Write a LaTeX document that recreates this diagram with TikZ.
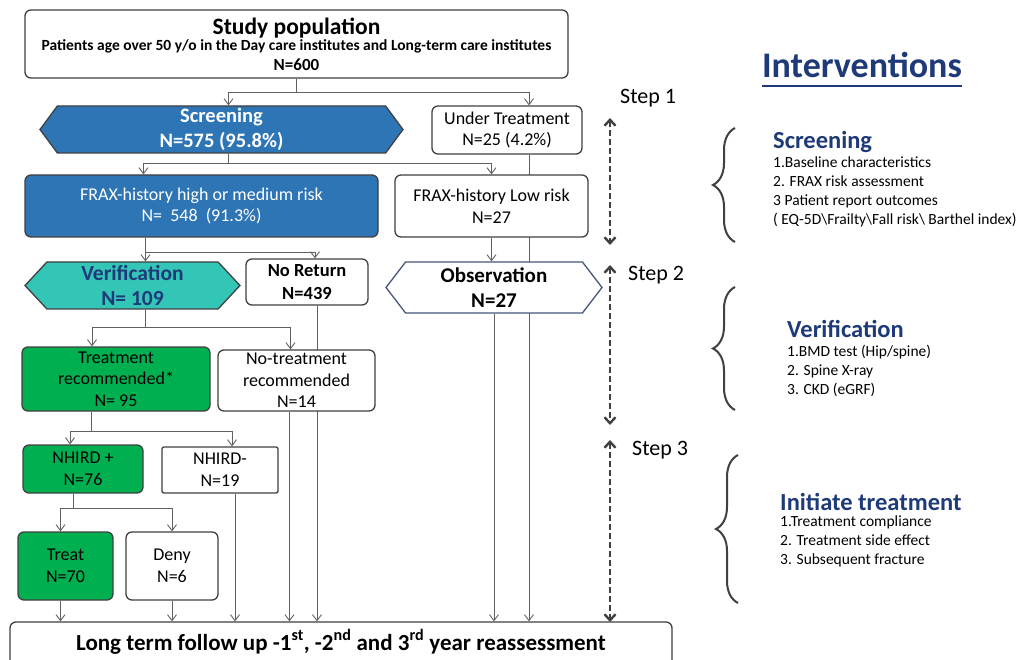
\documentclass[tikz,border=0pt]{standalone}
\usepackage{fontspec}
\setmainfont{Carlito}
\usetikzlibrary{arrows.meta,calc,shapes.symbols,decorations.pathreplacing,backgrounds}
\definecolor{boxblue}{HTML}{2E75B6}
\definecolor{verteal}{HTML}{33C6B6}
\definecolor{boxgreen}{HTML}{00B050}
\definecolor{navy}{HTML}{1F3A78}
\definecolor{edge}{HTML}{404040}
\definecolor{wire}{HTML}{606060}
\newcommand{\fs}[1]{\fontsize{#1}{1.2\dimexpr#1pt\relax}\selectfont}

\begin{document}
\begin{tikzpicture}[x=1pt,y=-1pt,
    box/.style={draw=edge,line width=1.3pt,rounded corners=6pt,align=center,inner sep=0pt,fill=white,font=\fs{18}},
    hexbox/.style={signal,signal to=east and west,draw=edge,line width=1.3pt,align=center,inner sep=0pt},
    conn/.style={wire,line width=0.9pt},
    arr/.style={conn,-{Straight Barb[length=6pt,width=9pt]}},
    stepline/.style={edge,line width=2.4pt,dashed,dash pattern=on 6pt off 3pt,{Straight Barb[length=6pt,width=11pt]}-{Straight Barb[length=6pt,width=11pt]}},
    curly/.style={edge,line width=2pt,decorate,decoration={brace,amplitude=22pt}},
    head/.style={navy,font=\fs{24.5}\bfseries,anchor=west,inner sep=0pt},
    items/.style={font=\fontsize{15.5}{19}\selectfont,align=left,anchor=north west,inner sep=0pt}]
  \useasboundingbox (0,0) rectangle (1020,660);

  % left flow chart
  \node[box,font=\fontsize{15.5}{19}\selectfont\bfseries,minimum width=543,minimum height=68] (study) at (296.5,44)
    {{\fs{23.5}Study population}\\[-3pt]
     Patients age over 50 y/o in the Day care institutes and Long-term care institutes\\[1pt]
     {\fs{17}N=600}};
  \node[hexbox,fill=boxblue,text=white,font=\fs{20.5}\bfseries,minimum width=363,minimum height=47,signal pointer angle=107] (screen) at (221.5,129.5)
    {Screening\\N=575 (95.8\%)};
  \node[box,minimum width=150,minimum height=48] (under) at (507,130) {Under Treatment\\N=25 (4.2\%)};
  \node[box,fill=boxblue,text=white,minimum width=353,minimum height=62] (frxh) at (201.5,206)
    {FRAX-history high or medium risk\\N=\ \ 548\ \ (91.3\%)};
  \node[box,minimum width=193,minimum height=62] (frxl) at (491.5,206) {FRAX-history Low risk\\N=27};
  \node[hexbox,fill=verteal,text=navy,font=\fs{21.5}\bfseries,minimum width=215,minimum height=47,signal pointer angle=94] (verif) at (132.5,285.5)
    {Verification\\N= 109};
  \node[box,font=\fs{18.5}\bfseries,minimum width=122,minimum height=46] (noret) at (307,282) {No Return\\N=439};
  \node[hexbox,fill=white,draw=navy!60!gray,font=\fs{21}\bfseries,minimum width=216,minimum height=51,signal pointer angle=105] (obs) at (494,287.5)
    {Observation\\N=27};
  \node[box,fill=boxgreen,minimum width=188,minimum height=64] (trec) at (116,379) {Treatment\\recommended*\\N= 95};
  \node[box,minimum width=157,minimum height=61] (notr) at (296.5,380.5) {No-treatment\\recommended\\N=14};
  \node[box,fill=boxgreen,minimum width=120,minimum height=48] (nhp) at (83,469) {NHIRD +\\N=76};
  \node[box,rounded corners=2pt,minimum width=116,minimum height=46] (nhm) at (220,470) {NHIRD-\\N=19};
  \node[box,fill=boxgreen,minimum width=95,minimum height=68] (treat) at (65.5,566) {Treat\\N=70};
  \node[box,minimum width=92,minimum height=68] (deny) at (172,566) {Deny\\N=6};
  \node[box,font=\fs{23}\bfseries,minimum width=662,minimum height=48,text height=16pt,text depth=8pt] (longt) at (341,646)
    {Long term follow up -1\textsuperscript{st}, -2\textsuperscript{nd} and 3\textsuperscript{rd} year reassessment};

  \begin{scope}[on background layer]
    \fill[white] (0,0) rectangle (1020,660);
    \draw[conn] (study.south) -- ++(0,14) coordinate (j1);
    \draw[arr] (j1) -| ([xshift=7]screen.north);
    \draw[arr] (j1) -| ([xshift=22]under.north);
    \draw[conn] ([xshift=7]screen.south) -- ++(0,10) coordinate (j2);
    \draw[arr] (j2) -| ([xshift=-58]frxh.north);
    \draw[arr] (j2) -| (frxl.north);
    \draw[arr] ([xshift=22]under.south) -- ([xshift=22]under.south |- longt.north);
    \draw[conn] ([xshift=-56]frxh.south) -- ++(0,15) coordinate (j3);
    \draw[arr] (j3) -- (j3 |- verif.north);
    \draw[arr] (j3) -| ([xshift=8]noret.north);
    \draw[arr] (frxl.south) -- (frxl.south |- obs.north);
    \draw[conn] (j3 |- verif.south) -- ++(0,18) coordinate (j4);
    \draw[arr] (j4) -| ([xshift=-24]trec.north);
    \draw[arr] (j4) -| ([xshift=-6]notr.north);
    \draw[arr] ([xshift=10]noret.south) -- ([xshift=10]noret.south |- longt.north);
    \draw[arr] (obs.south) -- (obs.south |- longt.north);
    \draw[arr] ([xshift=-7]notr.south) -- ([xshift=-7]notr.south |- longt.north);
    \draw[conn] ([xshift=-25]trec.south) -- ++(0,20) coordinate (j5);
    \draw[arr] (j5) -| ([xshift=-13]nhp.north);
    \draw[arr] (j5) -| ([xshift=12]nhm.north);
    \draw[conn] ([xshift=-10]nhp.south) -- ++(0,15) coordinate (j6);
    \draw[arr] (j6) -| ([xshift=-5]treat.north);
    \draw[arr] (j6) -| (deny.north);
    \draw[arr] ([xshift=15]nhm.south) -- ([xshift=15]nhm.south |- longt.north);
    \draw[arr] ([xshift=-5]treat.south) -- ([xshift=-5]treat.south |- longt.north);
    \draw[arr] (deny.south) -- (deny.south |- longt.north);
  \end{scope}

  % steps
  \node[font=\fs{22},anchor=west,inner sep=0pt] (s1) at (620,98) {Step 1};
  \node[font=\fs{22},anchor=west,inner sep=0pt] (s2) at (628,275) {Step 2};
  \node[font=\fs{22},anchor=west,inner sep=0pt] (s3) at (632,450) {Step 3};
  \coordinate (a1) at (610,118);
  \coordinate (b1) at (610,245);
  \coordinate (a2) at (610,265);
  \coordinate (b2) at (610,425);
  \coordinate (a3) at (610,440);
  \coordinate (b3) at (610,622);
  \draw[stepline] (a1) -- (b1);
  \draw[stepline] (a2) -- (b2);
  \draw[stepline] (a3) -- (b3);

  % interventions
  \node[navy,font=\fs{36}\bfseries,inner sep=0pt] (title) at (862,65) {Interventions};
  \draw[navy,line width=2pt] ([yshift=-8]title.south west) -- ([yshift=-8]title.south east);

  \draw[curly] (735,242) -- (735,128);
  \node[head] (h1) at (773,142) {Screening};
  \node[items] (l1) at (773,157) {1.Baseline characteristics\\2. FRAX risk assessment\\3 Patient report outcomes\\( EQ-5D\textbackslash Frailty\textbackslash Fall risk\textbackslash\ Barthel index)};

  \draw[curly] (735,410) -- (735,287);
  \node[head] (h2) at (787,329) {Verification};
  \node[items] (l2) at (787,345) {1.BMD test (Hip/spine)\\2. Spine X-ray\\3. CKD (eGRF)};

  \draw[curly] (738,603) -- (738,455);
  \node[head] (h3) at (780,502) {Initiate treatment};
  \node[items] (l3) at (780,516) {1.Treatment compliance\\2. Treatment side effect\\3. Subsequent fracture};
\end{tikzpicture}
\end{document}
